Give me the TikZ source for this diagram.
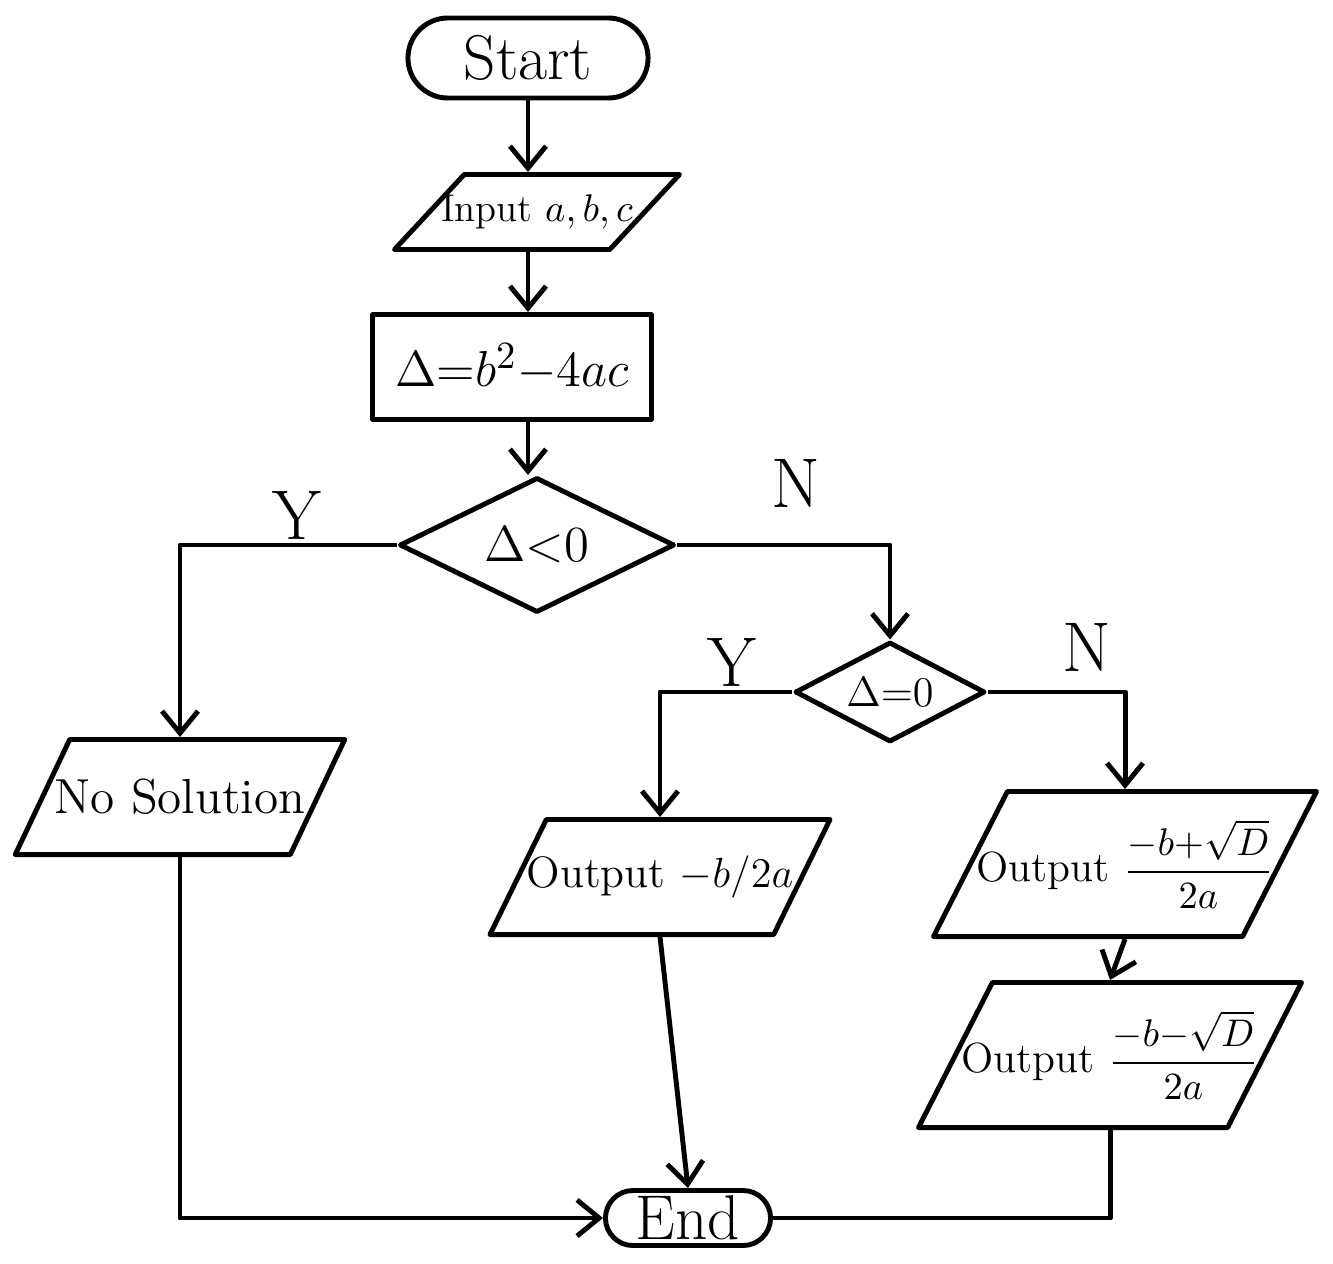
\documentclass[tikz,border=0pt]{standalone}
\usepackage{amsmath}
\usetikzlibrary{shapes.geometric,shapes.misc,arrows.meta}
\begin{document}
\begin{tikzpicture}[x=0.01cm,y=-0.01cm,
  every node/.style={font=\fontsize{14}{17}\selectfont},
  shape line/.style={draw=black,line width=1.4pt,line join=round},
  terminal/.style={shape line,rounded rectangle,inner sep=0pt},
  iobox/.style={shape line,trapezium,trapezium left angle=#1,trapezium right angle=180-#1,
    trapezium stretches=true,inner xsep=-0.8cm,inner ysep=0pt},
  iobox/.default=58,
  procbox/.style={shape line,rectangle,inner sep=0pt},
  decision/.style={shape line,diamond,inner sep=0pt,aspect=2},
  flow/.style={line width=1.4pt,line join=round,-{Straight Barb[length=0.22cm,width=0.36cm,line width=1.4pt]}},
  plainflow/.style={line width=1.4pt,line join=round},
  branch/.style={font=\fontsize{20}{22}\selectfont,inner sep=1pt},
  outtext/.style={font=\fontsize{12.5}{15}\selectfont}]
\useasboundingbox (0,0) rectangle (1333,1263);

% main column
\node[terminal,minimum width=2.4cm,minimum height=0.8cm] (start) at (528,58) {\fontsize{18}{20}\selectfont Start};
\node[iobox=66,minimum width=2.85cm,minimum height=0.75cm] (input) at (537,212) {\fontsize{11}{14}\selectfont Input $a,b,c$};
\node[procbox,minimum width=2.78cm,minimum height=1.05cm] (calc) at (512,367) {\fontsize{15}{17}\selectfont $\Delta{=}b^2{-}4ac$};
\node[decision,minimum width=2.75cm,minimum height=1.35cm] (neg) at (537,545) {\fontsize{15}{17}\selectfont $\Delta{<}0$};

% second test
\node[decision,minimum width=1.9cm,minimum height=1.0cm] (zero) at (890,692) {\fontsize{12}{14}\selectfont $\Delta{=}0$};

% outputs
\node[iobox,minimum width=3.3cm,minimum height=1.15cm] (nosol) at (180,797) {No Solution};
\node[iobox,outtext,minimum width=3.4cm,minimum height=1.15cm] (single) at (660,877) {Output $-b/2a$};
\node[iobox=64,font=\fontsize{12}{14}\selectfont,minimum width=3.85cm,minimum height=1.45cm] (plus) at (1125,864)
  {Output {\fontsize{10.5}{13}\selectfont$\dfrac{-b{+}\sqrt{D}}{2a}$}};
\node[iobox=64,font=\fontsize{12}{14}\selectfont,minimum width=3.85cm,minimum height=1.45cm] (minus) at (1110,1055)
  {Output {\fontsize{10.5}{13}\selectfont$\dfrac{-b{-}\sqrt{D}}{2a}$}};

\node[terminal,minimum width=1.65cm,minimum height=0.55cm] (end) at (688,1218) {\fontsize{18}{20}\selectfont End};

% connectors
\draw[flow] (start.south) -- (start.south |- input.north);
\draw[flow] (start.south |- input.south) -- (start.south |- calc.north);
\draw[flow] (start.south |- calc.south) -- (start.south |- neg.north);
\draw[flow] (neg.west) -| node[branch,pos=0.23,above] {Y} (nosol.north);
\draw[flow] (neg.east) -| node[branch,pos=0.28,above=9pt] {N} (zero.north);
\draw[flow] (zero.west) -| node[branch,pos=0.23,above] {Y} (single.north);
\draw[flow] (zero.east) -| node[branch,pos=0.36,above=4pt] {N} (plus.north);
\draw[flow] (plus.south) -- (minus.north);
\draw[flow] (nosol.south) |- (end.west);
\draw[flow] (single.south) -- (end.north);
\draw[plainflow] (minus.south) |- (end.east);
\end{tikzpicture}
\end{document}
